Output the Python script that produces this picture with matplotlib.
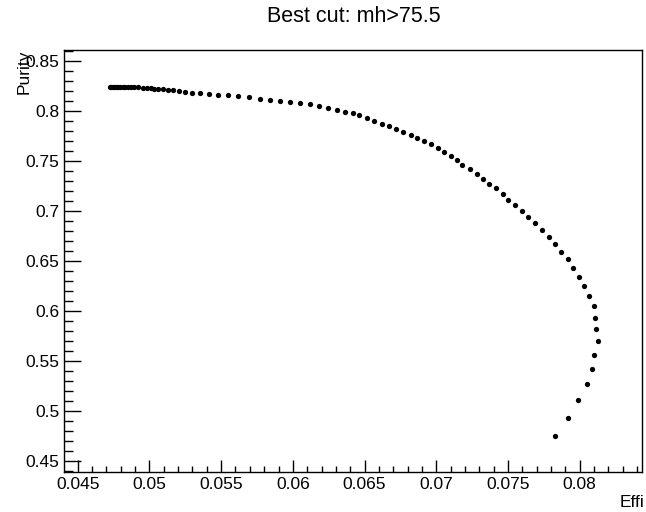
import numpy as np
import matplotlib
matplotlib.use("Agg")
import matplotlib.pyplot as plt
from matplotlib.ticker import MultipleLocator

# efficiency / purity scan points
effi = [0.04726, 0.04735, 0.04745, 0.04755, 0.04768, 0.04782, 0.04797, 0.04813,
        0.04831, 0.04850, 0.04870, 0.04892, 0.04923, 0.04954, 0.04982, 0.05010,
        0.05035, 0.05063, 0.05094, 0.05128, 0.05163, 0.05205, 0.05251, 0.05298,
        0.05354, 0.05417, 0.05480, 0.05547, 0.05617, 0.05694, 0.05768, 0.05841,
        0.05913, 0.05980, 0.06050, 0.06120, 0.06185, 0.06248, 0.06306, 0.06362,
        0.06418, 0.06464, 0.06517, 0.06569, 0.06623, 0.06669, 0.06721, 0.06770,
        0.06821, 0.06869, 0.06916, 0.06965, 0.07011, 0.07056, 0.07100, 0.07147,
        0.07182, 0.07233, 0.07281, 0.07323, 0.07365, 0.07416, 0.07463, 0.07500,
        0.07552, 0.07598, 0.07640, 0.07687, 0.07738, 0.07784, 0.07826, 0.07873,
        0.07919, 0.07957, 0.07999, 0.08031, 0.08062, 0.08101, 0.08110, 0.08117,
        0.08128, 0.08101, 0.08089, 0.08050, 0.07992, 0.07919, 0.07826]
purity = [0.8245, 0.8245, 0.8244, 0.8244, 0.8243, 0.8243, 0.8242, 0.8241,
          0.8240, 0.8239, 0.8238, 0.8237, 0.8237, 0.8233, 0.8230, 0.8227,
          0.8223, 0.8220, 0.8217, 0.8210, 0.8207, 0.8200, 0.8193, 0.8183,
          0.8177, 0.8170, 0.8163, 0.8157, 0.8147, 0.8137, 0.8123, 0.8113,
          0.8100, 0.8090, 0.8080, 0.8067, 0.8050, 0.8033, 0.8013, 0.7993,
          0.7977, 0.7957, 0.7930, 0.7900, 0.7870, 0.7847, 0.7820, 0.7793,
          0.7760, 0.7730, 0.7703, 0.7670, 0.7627, 0.7593, 0.7553, 0.7507,
          0.7460, 0.7420, 0.7373, 0.7320, 0.7273, 0.7227, 0.7170, 0.7113,
          0.7060, 0.7000, 0.6940, 0.6880, 0.6813, 0.6740, 0.6667, 0.6593,
          0.6520, 0.6433, 0.6343, 0.6253, 0.6153, 0.6053, 0.5933, 0.5820,
          0.5700, 0.5557, 0.5417, 0.5267, 0.5107, 0.4927, 0.4747]

title = "Best cut: mh>75.5"

plt.rcParams['font.family'] = ['Liberation Sans', 'DejaVu Sans']

fig = plt.figure(figsize=(6.46, 5.12), dpi=100)
ax = fig.add_axes([64/646, 40/512, (642-64)/646, (472-50)/512])

ax.plot(effi, purity, 'o', color='black', markersize=3.8, markeredgewidth=0)

ax.set_xlim(0.04404, 0.08435)
ax.set_ylim(0.439, 0.861)

ax.xaxis.set_major_locator(MultipleLocator(0.005))
ax.xaxis.set_minor_locator(MultipleLocator(0.001))
ax.yaxis.set_major_locator(MultipleLocator(0.05))
ax.yaxis.set_minor_locator(MultipleLocator(0.01))
ax.xaxis.set_major_formatter(matplotlib.ticker.FuncFormatter(lambda v, p: ('%.3f' % v).rstrip('0')))
ax.yaxis.set_major_formatter(matplotlib.ticker.FuncFormatter(lambda v, p: ('%.2f' % v).rstrip('0')))

ax.tick_params(axis='x', which='major', direction='in', length=8.6, width=1, labelsize=12.5, pad=3.5)
ax.tick_params(axis='x', which='minor', direction='in', length=4.5, width=1)
ax.tick_params(axis='y', which='major', direction='in', length=12.5, width=1, labelsize=12.5, pad=3.5)
ax.tick_params(axis='y', which='minor', direction='in', length=6.5, width=1)
for s in ax.spines.values():
    s.set_linewidth(1)

fig.text(0.547, 1 - 16/512, title, ha='center', va='center', fontsize=15.5)
fig.text(644/646, 5/512, "Effi", ha='right', va='baseline', fontsize=12.5)
# ROOT puts the y title at the top end of the axis, over the 0.85 label
fig.text(24/646, 462/512, "Purity", ha='center', va='top', rotation=90, fontsize=12.5)

fig.savefig("out.png", dpi=100)
